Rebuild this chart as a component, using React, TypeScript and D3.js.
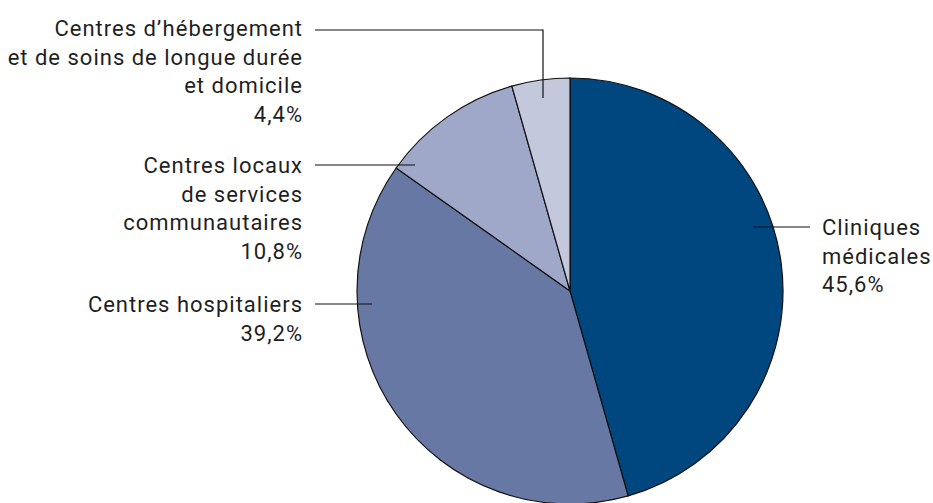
import React, { useEffect, useRef } from "react";
import * as d3 from "d3";

// data
const categories = [
  "Cliniques médicales",
  "Centres hospitaliers",
  "Centres locaux de services communautaires",
  "Centres d’hébergement et de soins de longue durée et domicile",
];
const values = [45.6, 39.2, 10.8, 4.4];
const labelLines = [
  ["Cliniques", "médicales", "45,6%"],
  ["Centres hospitaliers", "39,2%"],
  ["Centres locaux", "de services", "communautaires", "10,8%"],
  ["Centres d’hébergement", "et de soins de longue durée", "et domicile", "4,4%"],
];
const colors = ["#00467f", "#6878a5", "#9fa8c8", "#c3c8dc"];

const width = 933;
const height = 503;

// label layout: text anchor, leader line
const layout = [
  { tx: 822, ty: 227, anchor: "start", x1: 810, x2: 753, y: 227, drop: 0 },
  { tx: 303, ty: 304, anchor: "end", x1: 315, x2: 372, y: 304, drop: 0 },
  { tx: 303, ty: 165, anchor: "end", x1: 315, x2: 415, y: 165, drop: 0 },
  { tx: 303, ty: 28, anchor: "end", x1: 315, x2: 543, y: 30, drop: 98 },
];

const App = () => {
  const ref = useRef<SVGSVGElement>(null);

  useEffect(() => {
    const svg = d3.select(ref.current);
    svg.selectAll("*").remove();

    const cx = 570;
    const cy = 291;
    const r = 213;

    const pie = d3
      .pie<number>()
      .sort(null)
      .value((d) => d);
    const arc = d3.arc<d3.PieArcDatum<number>>().innerRadius(0).outerRadius(r);

    const g = svg.append("g").attr("transform", `translate(${cx},${cy})`);
    g.selectAll("path")
      .data(pie(values))
      .enter()
      .append("path")
      .attr("d", arc)
      .attr("fill", (d, i) => colors[i])
      .attr("stroke", "#111")
      .attr("stroke-width", 1.2)
      .append("title")
      .text((d, i) => categories[i]);

    // leader lines
    layout.forEach((l) => {
      svg
        .append("line")
        .attr("x1", l.x1)
        .attr("x2", l.x2)
        .attr("y1", l.y)
        .attr("y2", l.y)
        .attr("stroke", "#111")
        .attr("stroke-width", 1.2);
      if (l.drop) {
        svg
          .append("line")
          .attr("x1", l.x2)
          .attr("x2", l.x2)
          .attr("y1", l.y - 0.6)
          .attr("y2", l.drop)
          .attr("stroke", "#111")
          .attr("stroke-width", 1.2);
      }
    });

    // labels
    labelLines.forEach((lines, i) => {
      const l = layout[i];
      const t = svg
        .append("text")
        .attr("x", l.tx)
        .attr("y", l.ty)
        .attr("text-anchor", l.anchor)
        .attr("dominant-baseline", "central")
        .style("font-family", "Roboto, sans-serif")
        .style("font-size", "22px")
        .style("letter-spacing", "1px")
        .style("fill", "#1f1f1f");
      lines.forEach((s, j) => {
        t.append("tspan")
          .attr("x", l.tx)
          .attr("y", l.ty + j * 28.5)
          .text(s);
      });
    });
  }, []);

  return (
    <svg
      ref={ref}
      width={width}
      height={height}
      style={{ position: "absolute", left: 0, top: 0, background: "#fff" }}
    />
  );
};

export default App;
